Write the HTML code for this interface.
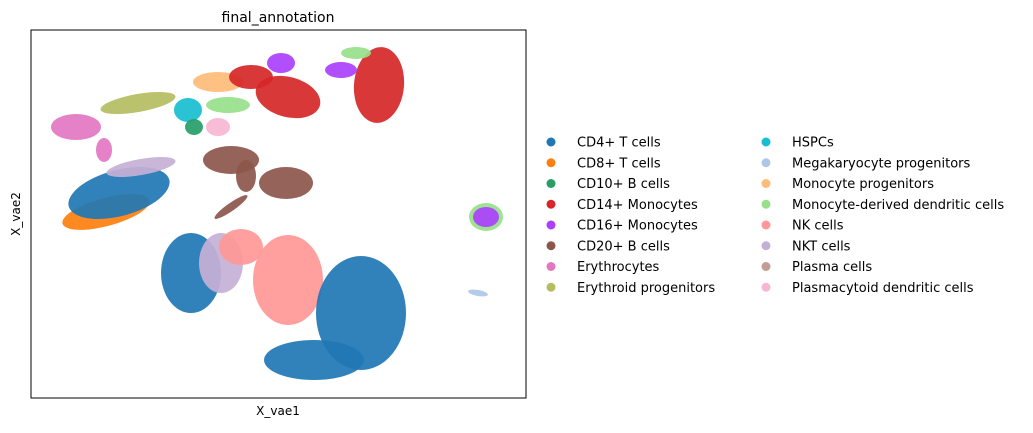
<!DOCTYPE html>
<html><head><meta charset="utf-8"><style>
body{margin:0;background:#fff;font-family:"DejaVu Sans","Liberation Sans",sans-serif;}
</style></head><body>
<svg id="chart" width="1033" height="429" xmlns="http://www.w3.org/2000/svg" font-family="DejaVu Sans, Liberation Sans, sans-serif">
<text x="278" y="22" font-size="14" text-anchor="middle" fill="#000">final_annotation</text>
<g id="marks"></g>
<rect x="31" y="30" width="495" height="368" fill="none" stroke="#000" stroke-width="1"/>
<text x="278" y="415" font-size="12" text-anchor="middle">X_vae1</text>
<text x="20" y="214" font-size="12" text-anchor="middle" transform="rotate(-90 20 214)">X_vae2</text>
<g id="legend"></g>
</svg>
<script>
const categories=["CD4+ T cells","CD8+ T cells","CD10+ B cells","CD14+ Monocytes","CD16+ Monocytes","CD20+ B cells","Erythrocytes","Erythroid progenitors","HSPCs","Megakaryocyte progenitors","Monocyte progenitors","Monocyte-derived dendritic cells","NK cells","NKT cells","Plasma cells","Plasmacytoid dendritic cells"];
const colors=["#1f77b4","#ff7f0e","#279e68","#d62728","#aa40fc","#8c564b","#e377c2","#b5bd61","#17becf","#aec7e8","#ffbb78","#98df8a","#ff9896","#c5b0d5","#c49c94","#f7b6d2"];
// cluster blobs: category index, center x, center y, radius x, radius y, rotation (data units)
const blobCat=[1,0,13,6,6,7,8,2,15,10,11,3,3,3,11,4,4,11,4,5,5,5,5,0,13,12,12,0,0,9];
const blobX=[75,88,110,45,73,107,157,163,187,187,197,257,220,348,325,250,310,455,455,200,215,255,200,160,190,210,257,330,283,447];
const blobY=[186,205,231,271,248,295,288,271,271,316,293,301,321,313,345,335,328,181,181,238,222,215,191,125,135,151,118,85,38,105];
const blobRX=[45,52,35,25,8,38,14,9,12,25,22,33,22,25,15,14,16,17,13,28,10,27,20,30,22,22,35,45,50,10];
const blobRY=[14,23,8,13,12,9,12,8,9,10,8,20,12,38,6,10,8,14,10,14,16,16,4,40,30,18,45,57,20,3];
const blobRot=[-15,-15,-10,0,0,-10,0,0,0,0,0,15,0,5,0,0,0,0,0,0,0,0,-35,0,0,0,0,0,0,10];
const X0=31,Y0=398,xs=v=>X0+v,ys=v=>Y0-v;
const NS="http://www.w3.org/2000/svg";
const marks=document.getElementById('marks');
for(let i=0;i<blobCat.length;i++){
  const e=document.createElementNS(NS,'ellipse');
  const cx=xs(blobX[i]),cy=ys(blobY[i]);
  e.setAttribute('cx',cx);e.setAttribute('cy',cy);
  e.setAttribute('rx',blobRX[i]);e.setAttribute('ry',blobRY[i]);
  e.setAttribute('transform','rotate('+blobRot[i]+' '+cx+' '+cy+')');
  e.setAttribute('fill',colors[blobCat[i]]);
  e.setAttribute('fill-opacity',0.92);
  
  
  marks.appendChild(e);
}
const lg=document.getElementById('legend');
categories.forEach((c,i)=>{
  const col=i<8?0:1,row=i%8;
  const mx=col?766:551,tx=col?792:577,y=142+row*20.75;
  const m=document.createElementNS(NS,'circle');
  m.setAttribute('cx',mx);m.setAttribute('cy',y);m.setAttribute('r',4.5);m.setAttribute('fill',colors[i]);
  
  
  lg.appendChild(m);
  const t=document.createElementNS(NS,'text');
  t.setAttribute('x',tx);t.setAttribute('y',y+4.5);t.setAttribute('font-size','13');
  t.textContent=c;
  
  
  lg.appendChild(t);
});
</script>
</body></html>
